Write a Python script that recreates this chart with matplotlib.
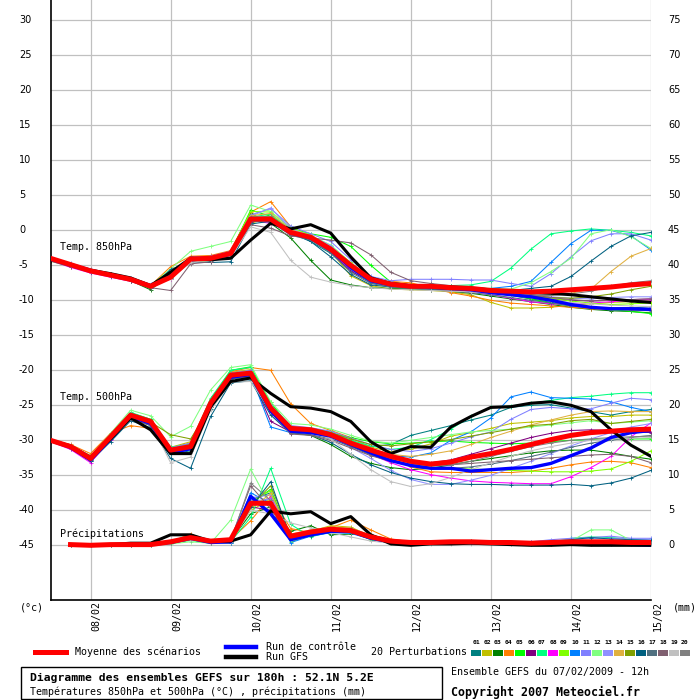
import numpy as np
import matplotlib
matplotlib.use('Agg')
import matplotlib.pyplot as plt
from matplotlib.transforms import blended_transform_factory
from matplotlib.patches import Rectangle

# forecast hours, every 6h from 07/02 12h
hours = np.arange(0, 181, 6)
precip_hours = hours[1:]

day_labels = ['08/02', '09/02', '10/02', '11/02', '12/02', '13/02', '14/02', '15/02']
day_hours = [12, 36, 60, 84, 108, 132, 156, 180]
left_ticks = [30, 25, 20, 15, 10, 5, 0, -5, -10, -15, -20, -25, -30, -35, -40, -45]
right_ticks = [75, 70, 65, 60, 55, 50, 45, 40, 35, 30, 25, 20, 15, 10, 5, 0]

member_colors = ['#008080', '#c0c000', '#008000', '#ff8000', '#00ff00', '#800080', '#00ff80',
                 '#ff00ff', '#80ff00', '#0080ff', '#8080ff', '#80ff80', '#9090ff', '#e0b040',
                 '#80a000', '#006080', '#507080', '#806070', '#c0c0c0', '#808080']
member_names = ['%02d' % (i + 1) for i in range(20)]

# ---- Temp 850 hPa ----
mean850 = [-4.0, -4.9, -5.8, -6.4, -7.0, -8.0, -6.7, -4.1, -4.0, -3.3, 1.6, 1.6, -0.3, -1.0, -2.7, -5.0,
           -7.0, -7.7, -8.0, -8.0, -8.2, -8.3, -8.6, -8.7, -8.8, -8.7, -8.5, -8.3, -8.1, -7.8, -7.6]
gfs850 = [-4.0, -4.9, -5.7, -6.2, -6.8, -7.9, -6.0, -4.0, -4.2, -4.0, -1.4, 1.0, 0.2, 0.8, -0.4, -3.8,
          -6.8, -7.6, -7.9, -8.0, -8.1, -8.3, -8.5, -8.7, -8.9, -9.0, -9.2, -9.5, -9.8, -10.1, -10.3]
ctrl850 = [-4.1, -5.0, -5.8, -6.4, -7.0, -8.0, -6.5, -4.0, -4.0, -3.4, 1.7, 1.5, -0.4, -1.1, -2.8, -5.3,
           -7.2, -7.8, -8.0, -8.1, -8.3, -8.5, -8.9, -9.2, -9.5, -10.0, -10.6, -11.0, -11.2, -11.2, -11.3]
pert850 = [
    [-4.2, -5.1, -5.9, -6.5, -7.1, -7.8, -5.8, -4.2, -4.4, -3.6, 1.8, 1.2, -0.2, -1.6, -3.3, -5.8, -7.4, -8.0, -8.1, -8.2, -8.4, -8.6, -8.9, -9.3, -9.8, -10.3, -10.8, -11.0, -11.2, -11.1, -10.9],
    [-4.4, -5.2, -6.0, -6.6, -7.3, -8.2, -6.4, -4.5, -4.3, -3.7, 1.0, 1.8, -0.5, -1.2, -3.0, -6.5, -7.9, -8.4, -8.5, -8.6, -8.8, -9.2, -10.3, -11.1, -11.1, -11.0, -10.7, -10.5, -10.3, -10.2, -10.1],
    [-4.1, -5.0, -5.8, -6.6, -7.2, -8.5, -6.2, -4.0, -3.8, -3.0, 2.4, 1.0, -1.1, -4.3, -7.1, -7.8, -8.2, -8.3, -8.4, -8.5, -8.7, -9.0, -9.4, -9.8, -10.2, -10.6, -11.0, -11.3, -11.5, -11.6, -11.8],
    [-4.0, -4.8, -5.6, -6.2, -6.9, -7.9, -5.2, -3.7, -3.6, -2.9, 2.6, 4.1, 0.5, -0.9, -2.4, -5.4, -7.2, -7.3, -7.5, -8.2, -8.9, -9.4, -10.0, -10.4, -10.6, -10.8, -11.0, -11.2, -11.3, -11.4, -11.4],
    [-4.3, -5.0, -5.9, -6.5, -7.0, -8.1, -6.8, -4.3, -4.1, -3.2, 2.9, 2.0, 0.3, -0.5, -1.0, -2.3, -5.0, -7.4, -7.8, -7.9, -8.0, -8.2, -8.6, -9.2, -9.8, -10.4, -10.7, -11.0, -11.3, -11.6, -11.9],
    [-4.2, -5.0, -5.7, -6.3, -6.9, -8.0, -6.9, -4.2, -4.1, -3.4, 1.2, 1.5, -0.6, -1.3, -3.1, -5.8, -7.4, -7.9, -8.1, -8.3, -8.5, -8.7, -8.9, -9.2, -9.5, -9.8, -10.0, -10.1, -10.0, -9.9, -9.8],
    [-4.1, -4.9, -5.8, -6.4, -7.0, -7.9, -6.5, -4.0, -3.9, -3.1, 1.9, 2.3, 0.0, -1.0, -2.4, -5.1, -7.2, -7.7, -7.9, -7.9, -7.9, -7.8, -7.3, -5.4, -2.7, -0.5, -0.1, 0.2, 0.0, -0.3, -0.8],
    [-4.3, -5.3, -6.1, -6.7, -7.3, -8.2, -6.9, -4.4, -4.2, -3.6, 1.4, 1.0, -0.4, -1.2, -3.0, -5.6, -7.3, -7.9, -8.2, -8.4, -8.6, -8.8, -9.2, -9.7, -10.2, -10.5, -10.6, -10.4, -10.2, -10.0, -9.9],
    [-4.0, -4.8, -5.7, -6.3, -7.0, -7.8, -6.0, -4.2, -3.9, -3.0, 2.7, 2.6, 0.4, -0.7, -2.2, -4.6, -6.9, -7.8, -8.1, -8.2, -8.3, -8.4, -8.6, -8.9, -9.3, -9.7, -10.1, -10.4, -10.6, -10.5, -10.4],
    [-4.2, -5.0, -5.9, -6.5, -7.1, -8.0, -6.7, -4.0, -4.1, -3.5, 1.7, 1.8, -0.1, -0.9, -2.6, -5.5, -7.5, -8.0, -8.2, -8.3, -8.4, -8.4, -8.3, -8.0, -7.3, -4.6, -1.9, 0.0, 0.0, -0.8, -2.8],
    [-3.9, -4.7, -5.5, -6.2, -6.8, -7.7, -6.4, -3.9, -3.7, -3.0, 2.2, 3.1, 0.6, -0.5, -1.6, -4.2, -6.6, -7.2, -7.0, -7.0, -7.0, -7.1, -7.1, -7.6, -8.0, -6.2, -3.8, -1.5, -0.5, -0.5, -1.4],
    [-4.1, -4.9, -5.7, -6.4, -7.0, -7.9, -5.5, -3.0, -2.3, -1.6, 3.6, 2.7, 0.3, -0.8, -2.1, -4.7, -7.0, -7.6, -7.9, -8.0, -8.1, -8.2, -8.3, -8.4, -7.5, -5.9, -4.0, -0.5, 0.1, -0.9, -2.6],
    [-4.2, -5.1, -5.9, -6.5, -7.1, -8.1, -6.6, -4.1, -4.0, -3.3, 2.0, 3.2, 0.2, -0.8, -2.2, -5.0, -7.1, -7.7, -7.9, -8.0, -8.1, -8.3, -8.6, -8.9, -9.2, -9.5, -9.7, -9.8, -9.6, -9.5, -9.5],
    [-4.0, -4.9, -5.7, -6.3, -6.9, -7.9, -6.3, -3.8, -3.9, -3.1, 2.1, 2.4, 0.1, -0.8, -2.5, -5.2, -7.1, -7.9, -8.2, -8.3, -8.5, -8.7, -9.0, -9.2, -9.3, -9.3, -9.0, -8.4, -5.9, -3.7, -2.6],
    [-4.1, -5.0, -5.8, -6.4, -7.0, -8.1, -6.5, -4.2, -4.2, -3.4, 1.5, 1.9, -0.2, -1.0, -2.8, -5.3, -7.3, -7.8, -8.0, -8.1, -8.3, -8.5, -8.8, -9.1, -9.4, -9.6, -9.7, -9.5, -9.1, -8.5, -8.0],
    [-4.3, -5.1, -6.0, -6.6, -7.2, -8.3, -5.6, -4.5, -4.6, -4.5, 0.9, 1.3, -0.4, -1.6, -3.8, -6.3, -7.8, -8.1, -8.3, -8.4, -8.5, -8.6, -8.7, -8.6, -8.3, -8.0, -6.6, -4.4, -2.3, -0.8, -0.3],
    [-4.2, -5.0, -5.8, -6.4, -7.0, -8.0, -6.8, -4.3, -4.0, -3.2, 1.3, 1.2, -0.7, -1.4, -3.2, -6.0, -7.6, -8.1, -8.3, -8.5, -8.7, -8.9, -9.2, -9.6, -10.0, -10.4, -10.8, -11.1, -11.3, -11.4, -11.5],
    [-4.4, -5.2, -6.0, -6.6, -7.2, -8.2, -8.6, -4.8, -4.5, -3.6, 0.8, 0.3, -0.8, -1.1, -1.4, -1.8, -3.5, -6.0, -7.2, -7.6, -7.9, -8.1, -8.4, -8.8, -9.2, -9.6, -9.9, -10.1, -10.0, -9.9, -9.8],
    [-4.1, -4.9, -5.8, -6.4, -7.0, -7.9, -6.9, -4.6, -4.2, -3.8, 0.5, -0.3, -4.3, -6.7, -7.4, -7.9, -8.2, -8.4, -8.5, -8.6, -8.7, -8.8, -9.0, -9.3, -9.6, -10.0, -10.3, -10.5, -10.7, -10.8, -10.9],
    [-4.0, -4.8, -5.7, -6.3, -6.9, -7.9, -6.4, -4.0, -3.9, -3.2, 1.9, 2.0, -0.2, -0.9, -2.5, -5.1, -7.1, -7.7, -8.0, -8.1, -8.2, -8.4, -8.7, -9.0, -9.3, -9.3, -9.1, -8.7, -8.0, -7.5, -7.2],
]

# ---- Temp 500 hPa ----
mean500 = [-30.0, -30.9, -32.6, -29.5, -26.4, -27.3, -31.4, -30.9, -24.7, -20.7, -20.4, -25.4, -28.3, -28.5, -29.2, -30.4,
           -31.4, -32.3, -33.0, -33.4, -33.1, -32.4, -31.9, -31.3, -30.6, -29.9, -29.3, -28.9, -28.7, -28.5, -28.4]
gfs500 = [-30.0, -30.8, -32.5, -29.8, -26.8, -28.5, -31.9, -31.9, -25.2, -21.6, -21.1, -23.3, -25.2, -25.4, -25.9, -27.3,
          -30.2, -31.9, -30.9, -31.0, -28.1, -26.6, -25.3, -25.2, -24.7, -24.5, -25.0, -25.9, -28.5, -30.7, -32.3]
ctrl500 = [-30.0, -31.0, -32.8, -29.8, -26.6, -27.6, -31.8, -31.2, -25.0, -21.0, -20.6, -25.8, -28.7, -28.9, -29.4, -30.6,
           -31.8, -32.9, -33.6, -34.0, -34.0, -34.4, -34.2, -34.0, -33.9, -33.3, -32.2, -31.1, -29.6, -28.9, -28.6]
pert500 = [
    [-30.1, -31.2, -32.9, -29.8, -26.9, -27.9, -32.0, -31.5, -25.6, -21.2, -21.0, -26.0, -28.6, -28.8, -29.4, -30.3, -30.9, -30.6, -29.3, -28.6, -27.9, -27.1, -26.4, -25.3, -25.0, -24.9, -25.4, -25.9, -26.4, -25.9, -25.6],
    [-30.0, -31.0, -32.7, -29.6, -26.3, -27.1, -31.0, -30.2, -24.2, -20.3, -19.9, -24.9, -28.0, -28.4, -29.0, -30.0, -31.0, -31.6, -31.3, -30.5, -29.4, -28.9, -28.3, -27.6, -27.4, -27.2, -26.8, -26.6, -26.6, -26.4, -26.4],
    [-29.9, -30.8, -32.4, -29.3, -26.2, -27.5, -31.6, -31.0, -25.0, -20.9, -20.5, -25.7, -28.9, -29.3, -30.6, -32.3, -33.3, -33.9, -34.2, -34.0, -33.5, -33.0, -32.6, -32.2, -31.8, -31.5, -31.4, -31.4, -31.8, -32.3, -32.7],
    [-30.0, -30.6, -31.9, -29.0, -27.9, -28.3, -31.1, -30.4, -24.1, -20.2, -19.6, -20.0, -24.8, -27.6, -28.6, -29.6, -31.0, -32.6, -33.8, -34.5, -34.6, -34.6, -34.6, -34.6, -34.4, -34.0, -33.5, -33.1, -33.0, -33.2, -33.9],
    [-30.1, -31.0, -32.8, -29.4, -26.1, -27.0, -31.2, -30.6, -24.3, -20.0, -19.5, -24.6, -28.2, -28.6, -29.0, -29.6, -30.2, -30.5, -30.4, -30.2, -30.1, -30.3, -30.4, -30.5, -30.4, -30.2, -30.0, -29.9, -29.8, -29.8, -29.8],
    [-30.0, -30.9, -32.5, -29.6, -26.5, -27.4, -31.3, -31.1, -25.1, -21.0, -20.8, -27.3, -28.8, -28.7, -29.3, -30.6, -31.6, -32.4, -33.0, -33.2, -32.8, -32.0, -31.2, -30.4, -29.6, -29.0, -28.6, -28.5, -28.6, -28.8, -28.9],
    [-30.0, -30.8, -32.4, -29.2, -26.0, -27.0, -31.0, -30.5, -24.0, -20.0, -19.6, -24.9, -28.1, -28.3, -28.8, -30.0, -30.8, -31.3, -31.0, -29.9, -28.4, -26.6, -25.3, -25.1, -24.7, -24.3, -23.9, -23.7, -23.4, -23.2, -23.2],
    [-30.2, -31.3, -33.2, -29.9, -26.2, -27.6, -31.7, -31.2, -24.9, -20.5, -20.3, -25.2, -28.9, -28.8, -29.5, -30.8, -32.0, -33.2, -34.2, -34.9, -35.4, -35.8, -36.0, -36.1, -36.2, -36.2, -35.2, -33.9, -32.3, -29.5, -27.5],
    [-30.0, -30.9, -32.5, -29.5, -26.4, -27.2, -31.2, -30.8, -24.5, -20.5, -20.1, -25.0, -28.2, -28.5, -29.3, -30.8, -32.0, -32.9, -33.5, -33.8, -34.0, -34.1, -34.2, -34.3, -34.4, -34.5, -34.5, -34.4, -34.1, -33.0, -31.5],
    [-30.0, -30.9, -32.7, -29.6, -26.6, -27.6, -31.6, -31.0, -24.8, -20.8, -20.6, -28.1, -28.9, -28.7, -29.4, -30.5, -31.5, -32.2, -32.4, -31.8, -30.0, -28.8, -26.8, -23.8, -23.1, -23.9, -24.0, -24.1, -24.5, -25.3, -25.9],
    [-30.0, -30.7, -32.2, -29.2, -26.2, -27.2, -31.1, -30.4, -24.4, -20.4, -20.0, -25.0, -27.9, -28.2, -28.7, -29.7, -30.6, -31.3, -31.6, -31.2, -30.4, -29.5, -28.8, -27.0, -25.6, -25.3, -25.5, -25.5, -24.7, -24.0, -24.2],
    [-30.0, -30.8, -32.3, -29.0, -25.7, -26.5, -29.5, -28.0, -22.8, -19.6, -19.2, -24.5, -27.6, -27.8, -28.4, -29.3, -30.1, -30.4, -30.0, -29.6, -29.2, -28.8, -28.6, -28.4, -28.1, -27.8, -27.5, -27.2, -27.6, -27.4, -27.2],
    [-30.1, -31.0, -32.7, -29.6, -26.5, -27.5, -31.5, -31.0, -24.9, -20.8, -20.5, -25.5, -28.5, -28.7, -29.5, -31.0, -32.6, -34.3, -35.6, -36.3, -36.3, -35.7, -35.0, -34.0, -33.0, -31.9, -30.8, -29.8, -28.9, -28.1, -27.6],
    [-30.0, -30.9, -32.6, -29.5, -26.4, -27.3, -31.3, -30.9, -24.6, -20.6, -20.4, -25.3, -28.2, -28.4, -29.1, -30.3, -31.3, -32.0, -32.3, -32.0, -31.5, -30.6, -29.6, -28.7, -27.8, -27.1, -26.4, -25.9, -25.8, -25.9, -25.9],
    [-30.0, -30.8, -32.2, -29.4, -26.8, -27.4, -29.2, -29.8, -25.2, -21.0, -20.7, -25.6, -28.3, -28.3, -28.9, -29.8, -30.6, -30.8, -30.5, -30.2, -29.9, -29.4, -28.9, -28.4, -27.9, -27.7, -27.2, -27.0, -27.6, -27.3, -27.0],
    [-30.1, -31.1, -33.0, -30.2, -27.2, -28.2, -32.6, -34.0, -26.6, -21.8, -21.5, -26.4, -29.0, -29.2, -30.3, -32.0, -33.5, -34.6, -35.4, -35.9, -36.2, -36.3, -36.3, -36.4, -36.4, -36.4, -36.3, -36.5, -36.1, -35.4, -34.3],
    [-30.0, -31.0, -32.8, -29.7, -26.7, -27.6, -31.7, -31.3, -25.3, -21.2, -20.9, -26.0, -29.0, -29.2, -29.8, -30.9, -32.1, -33.0, -33.6, -33.9, -34.0, -33.8, -33.4, -32.9, -32.3, -31.7, -31.0, -30.4, -30.0, -29.6, -29.3],
    [-30.0, -31.0, -32.7, -29.7, -26.9, -27.9, -31.5, -31.3, -25.3, -21.1, -20.9, -26.0, -29.1, -29.3, -30.0, -31.1, -32.2, -33.0, -33.4, -33.6, -33.5, -33.3, -33.1, -32.9, -32.7, -32.5, -32.3, -32.1, -32.0, -32.3, -33.2],
    [-30.0, -30.9, -32.5, -29.6, -26.6, -27.5, -33.2, -32.4, -25.7, -21.7, -21.6, -25.8, -28.5, -28.8, -29.8, -32.0, -34.2, -35.9, -36.6, -36.2, -35.3, -34.2, -33.2, -32.3, -31.5, -30.9, -30.4, -30.0, -29.8, -29.7, -29.6],
    [-30.0, -30.9, -32.6, -29.5, -26.4, -27.2, -31.3, -30.9, -24.7, -20.6, -20.3, -25.3, -28.3, -28.5, -29.2, -30.5, -31.7, -32.8, -33.4, -33.6, -33.5, -33.0, -32.3, -31.6, -30.9, -30.4, -30.0, -29.8, -29.6, -29.5, -29.4],
]

# ---- Precipitation (mm, from +6h) ----
mean_rr = [0.1, 0.0, 0.1, 0.1, 0.1, 0.5, 1.1, 0.6, 0.8, 6.0, 6.0, 1.3, 1.9, 2.3, 2.1,
           1.2, 0.6, 0.4, 0.4, 0.5, 0.5, 0.4, 0.4, 0.3, 0.4, 0.5, 0.5, 0.5, 0.4, 0.4]
gfs_rr = [0.0, 0.1, 0.1, 0.3, 0.3, 1.5, 1.5, 0.6, 0.6, 1.5, 4.9, 4.5, 4.8, 3.1, 4.1,
          1.5, 0.2, 0.0, 0.2, 0.2, 0.3, 0.2, 0.1, 0.0, 0.0, 0.1, 0.0, 0.0, 0.0, 0.0]
ctrl_rr = [0.1, 0.0, 0.1, 0.1, 0.1, 0.4, 1.0, 0.4, 0.5, 7.0, 4.5, 0.8, 1.5, 2.0, 2.0,
           1.0, 0.5, 0.3, 0.3, 0.4, 0.4, 0.3, 0.3, 0.3, 0.3, 0.3, 0.3, 0.3, 0.1, 0.0]
pert_rr = [
    [0.0, 0.0, 0.1, 0.1, 0.2, 0.3, 1.0, 0.4, 0.3, 6.5, 7.5, 1.2, 1.5, 2.2, 2.5, 1.0, 0.5, 0.3, 0.3, 0.4, 0.4, 0.3, 0.3, 0.2, 0.3, 0.4, 0.5, 0.5, 0.4, 0.4],
    [0.0, 0.1, 0.1, 0.1, 0.1, 0.4, 1.3, 0.5, 0.6, 5.0, 6.5, 1.5, 2.0, 2.8, 2.6, 1.3, 0.6, 0.4, 0.4, 0.5, 0.5, 0.4, 0.4, 0.3, 0.3, 0.4, 0.5, 0.6, 0.5, 0.5],
    [0.0, 0.0, 0.0, 0.1, 0.1, 0.3, 0.9, 0.5, 0.7, 4.5, 5.5, 2.0, 2.8, 1.5, 1.6, 1.5, 0.8, 0.5, 0.4, 0.5, 0.6, 0.5, 0.4, 0.4, 0.5, 0.5, 0.4, 0.3, 0.3, 0.3],
    [0.0, 0.1, 0.1, 0.2, 0.2, 0.5, 1.6, 0.6, 0.8, 3.5, 7.0, 2.4, 1.8, 2.5, 3.6, 2.2, 0.9, 0.5, 0.4, 0.4, 0.4, 0.3, 0.3, 0.3, 0.2, 0.3, 0.3, 0.4, 0.4, 0.4],
    [0.0, 0.0, 0.1, 0.1, 0.2, 0.4, 1.1, 0.5, 0.5, 6.0, 8.0, 1.0, 1.6, 2.4, 2.0, 0.8, 0.4, 0.3, 0.3, 0.3, 0.4, 0.4, 0.3, 0.3, 0.3, 0.4, 0.4, 0.4, 0.3, 0.3],
    [0.0, 0.0, 0.1, 0.1, 0.1, 0.3, 0.8, 0.4, 0.6, 5.5, 5.0, 0.9, 1.7, 2.1, 1.8, 1.0, 0.5, 0.4, 0.4, 0.4, 0.5, 0.4, 0.3, 0.3, 0.3, 0.3, 0.3, 0.3, 0.3, 0.3],
    [0.0, 0.0, 0.0, 0.1, 0.1, 0.3, 0.7, 0.3, 0.5, 4.0, 11.0, 3.0, 1.2, 1.9, 2.0, 1.1, 0.6, 0.4, 0.3, 0.3, 0.4, 0.4, 0.3, 0.3, 0.4, 1.0, 1.2, 1.1, 0.9, 0.7],
    [0.0, 0.0, 0.1, 0.1, 0.2, 0.4, 1.2, 0.5, 0.6, 5.8, 6.8, 1.1, 1.6, 2.3, 2.2, 1.2, 0.6, 0.4, 0.4, 0.4, 0.4, 0.3, 0.3, 0.3, 0.3, 0.3, 0.4, 0.4, 0.4, 0.3],
    [0.0, 0.0, 0.1, 0.1, 0.1, 0.3, 0.9, 0.4, 0.5, 6.2, 7.8, 0.5, 1.4, 2.0, 1.9, 0.9, 0.5, 0.3, 0.3, 0.4, 0.4, 0.4, 0.3, 0.3, 0.3, 0.3, 0.3, 0.3, 0.3, 0.3],
    [0.0, 0.0, 0.1, 0.1, 0.1, 0.3, 1.0, 0.4, 0.4, 7.5, 6.0, 0.4, 1.3, 1.8, 1.7, 0.9, 0.4, 0.3, 0.3, 0.3, 0.3, 0.3, 0.4, 0.5, 0.6, 0.6, 0.5, 0.5, 0.4, 0.4],
    [0.0, 0.0, 0.1, 0.1, 0.1, 0.4, 1.1, 0.5, 0.5, 6.8, 7.2, 1.3, 1.9, 2.3, 2.4, 1.2, 0.6, 0.4, 0.3, 0.4, 0.4, 0.4, 0.4, 0.5, 0.8, 1.0, 1.1, 1.3, 1.0, 1.0],
    [0.0, 0.0, 0.0, 0.1, 0.1, 0.2, 0.5, 0.3, 3.6, 10.9, 5.5, 0.8, 1.5, 2.0, 1.9, 0.9, 0.4, 0.3, 0.3, 0.3, 0.3, 0.3, 0.3, 0.3, 0.4, 0.6, 2.2, 2.2, 0.7, 0.5],
    [0.0, 0.0, 0.1, 0.1, 0.2, 0.4, 1.2, 0.5, 0.6, 6.3, 6.6, 1.2, 1.8, 2.4, 2.3, 1.1, 0.6, 0.4, 0.4, 0.4, 0.4, 0.4, 0.4, 0.5, 0.6, 0.8, 1.0, 1.0, 0.9, 0.8],
    [0.0, 0.1, 0.1, 0.2, 0.2, 0.5, 1.5, 0.5, 0.7, 5.2, 7.4, 1.6, 2.2, 2.6, 2.5, 1.4, 0.7, 0.5, 0.4, 0.4, 0.4, 0.3, 0.3, 0.3, 0.3, 0.3, 0.4, 0.5, 0.5, 0.5],
    [0.0, 0.0, 0.1, 0.1, 0.1, 0.3, 0.9, 0.4, 0.6, 5.6, 8.5, 1.4, 1.5, 2.1, 1.9, 1.0, 0.5, 0.3, 0.3, 0.4, 0.4, 0.3, 0.3, 0.3, 0.3, 0.3, 0.3, 0.3, 0.3, 0.3],
    [0.0, 0.0, 0.1, 0.1, 0.2, 0.3, 0.8, 0.4, 0.5, 5.4, 9.1, 1.0, 1.4, 2.2, 2.4, 1.3, 0.6, 0.4, 0.3, 0.3, 0.3, 0.3, 0.3, 0.3, 0.4, 0.8, 1.1, 0.9, 0.8, 0.7],
    [0.0, 0.0, 0.1, 0.1, 0.1, 0.3, 0.9, 0.4, 0.5, 6.1, 6.2, 1.1, 1.6, 2.0, 2.0, 1.0, 0.5, 0.3, 0.3, 0.3, 0.3, 0.3, 0.3, 0.3, 0.3, 0.3, 0.3, 0.3, 0.3, 0.3],
    [0.0, 0.0, 0.1, 0.2, 0.2, 0.6, 1.4, 0.6, 0.8, 8.5, 5.2, 1.0, 1.7, 2.2, 2.1, 1.1, 0.5, 0.3, 0.3, 0.3, 0.3, 0.3, 0.2, 0.2, 0.2, 0.2, 0.2, 0.2, 0.2, 0.2],
    [0.0, 0.0, 0.0, 0.1, 0.1, 0.3, 0.8, 0.4, 0.5, 5.0, 4.5, 3.2, 2.5, 1.8, 1.2, 0.6, 0.3, 0.2, 0.2, 0.2, 0.2, 0.2, 0.2, 0.2, 0.2, 0.2, 0.2, 0.2, 0.2, 0.2],
    [0.0, 0.0, 0.1, 0.1, 0.2, 0.4, 1.0, 0.5, 0.6, 8.9, 6.4, 1.2, 1.7, 2.3, 2.2, 1.1, 0.5, 0.3, 0.3, 0.4, 0.4, 0.3, 0.3, 0.3, 0.3, 0.3, 0.3, 0.4, 0.4, 0.4],
]
rr_base = -45  # precipitation 0 mm sits on the -45 line

W, H = 700, 700
fig = plt.figure(figsize=(7, 7), dpi=100)
fig.patch.set_facecolor('white')


def fx(x):
    return x / W


def fy(y):
    return 1 - y / H


ax = fig.add_axes([fx(50.5), fy(600), (651 - 50.5) / W, 600 / H])
ax.set_xlim(0, 180)
ax.set_ylim(30 - (600 - 20.3) / 7, 30 + 20.3 / 7)
ax.set_xticks([])
ax.set_yticks([])
for s in ['top', 'right']:
    ax.spines[s].set_visible(False)
for s in ['left', 'bottom']:
    ax.spines[s].set_color('black')
    ax.spines[s].set_linewidth(1.2)

grid_c = '#c0c0c0'
for v in left_ticks:
    ax.axhline(v, color=grid_c, lw=0.9, zorder=0)
for h in day_hours:
    ax.axvline(h, color=grid_c, lw=0.9, zorder=0)

# ensemble members
for i in range(20):
    c = member_colors[i]
    kw = dict(color=c, lw=0.75, marker='+', ms=2.5, mew=0.6, zorder=2)
    ax.plot(hours, pert850[i], **kw)
    ax.plot(hours, pert500[i], **kw)
    ax.plot(precip_hours, np.array(pert_rr[i]) + rr_base, **kw)

for series, h in [((ctrl850, gfs850, mean850), hours),
                  ((ctrl500, gfs500, mean500), hours),
                  ((ctrl_rr, gfs_rr, mean_rr), precip_hours)]:
    off = rr_base if h is precip_hours else 0
    ax.plot(h, np.array(series[0]) + off, color='#0000ff', lw=2.4, zorder=3)
    ax.plot(h, np.array(series[1]) + off, color='black', lw=2.2, zorder=4)
    ax.plot(h, np.array(series[2]) + off, color='#ff0000', lw=3.6, zorder=5)

mono = 'DejaVu Sans Mono'
ax.text(fx(60) , fy(247), 'Temp. 850hPa', transform=fig.transFigure, family=mono, fontsize=7.2,
        va='center', ha='left', zorder=6)
fig.text(fx(60), fy(397.5), 'Temp. 500hPa', family=mono, fontsize=7.2, va='center', ha='left')
fig.text(fx(60), fy(534), 'Précipitations', family=mono, fontsize=7.2, va='center', ha='left')

# axis labels
tr = blended_transform_factory(fig.transFigure, ax.transData)
for v in left_ticks:
    fig.text(fx(19), v, str(v), transform=tr, fontsize=7, va='center', ha='left')
for v, r in zip(left_ticks, right_ticks):
    fig.text(fx(668), v, str(r), transform=tr, fontsize=7, va='center', ha='left')

trx = blended_transform_factory(ax.transData, fig.transFigure)
for lab, h in zip(day_labels, day_hours):
    fig.text(h + 1.9, fy(601), lab, transform=trx, family=mono, fontsize=7.2,
             rotation=90, va='top', ha='center')
fig.text(fx(20), fy(607), '(°c)', family=mono, fontsize=7.2, va='center', ha='left')
fig.text(fx(673), fy(607), '(mm)', family=mono, fontsize=7.2, va='center', ha='left')

# legend
fig.add_artist(plt.Line2D([fx(35), fx(66)], [fy(652), fy(652)], color='#ff0000', lw=3.6))
fig.text(fx(75), fy(652), 'Moyenne des scénarios', family=mono, fontsize=7.2, va='center')
fig.add_artist(plt.Line2D([fx(226), fx(256)], [fy(647), fy(647)], color='#0000ff', lw=3.2))
fig.add_artist(plt.Line2D([fx(226), fx(256)], [fy(657), fy(657)], color='black', lw=3.2))
fig.text(fx(266), fy(647), 'Run de contrôle', family=mono, fontsize=7.2, va='center')
fig.text(fx(266), fy(657.5), 'Run GFS', family=mono, fontsize=7.2, va='center')
fig.text(fx(371), fy(652), '20 Perturbations', family=mono, fontsize=7.2, va='center')
for i in range(20):
    x0 = 471 + 11 * i
    fig.add_artist(Rectangle((fx(x0), fy(655.5)), 10 / W, 6 / H, transform=fig.transFigure,
                             facecolor=member_colors[i], edgecolor='none'))
    fig.text(fx(x0 + 5), fy(643), member_names[i], family=mono, fontsize=4.6,
             weight='bold', va='center', ha='center')

# title box
fig.add_artist(Rectangle((fx(21), fy(699)), (442 - 21) / W, 32 / H, transform=fig.transFigure,
                         facecolor='none', edgecolor='black', lw=1.0))
fig.text(fx(30), fy(678), 'Diagramme des ensembles GEFS sur 180h : 52.1N 5.2E', family=mono,
         fontsize=8.2, weight='bold', va='center')
fig.text(fx(30), fy(692), 'Températures 850hPa et 500hPa (°C) , précipitations (mm)', family=mono,
         fontsize=7.2, va='center')
fig.text(fx(451), fy(672), 'Ensemble GEFS du 07/02/2009 - 12h', family=mono, fontsize=7.2, va='center')
fig.text(fx(451), fy(692), 'Copyright 2007 Meteociel.fr', family=mono, fontsize=8.4,
         weight='bold', va='center')

fig.savefig('out.png', dpi=100)
